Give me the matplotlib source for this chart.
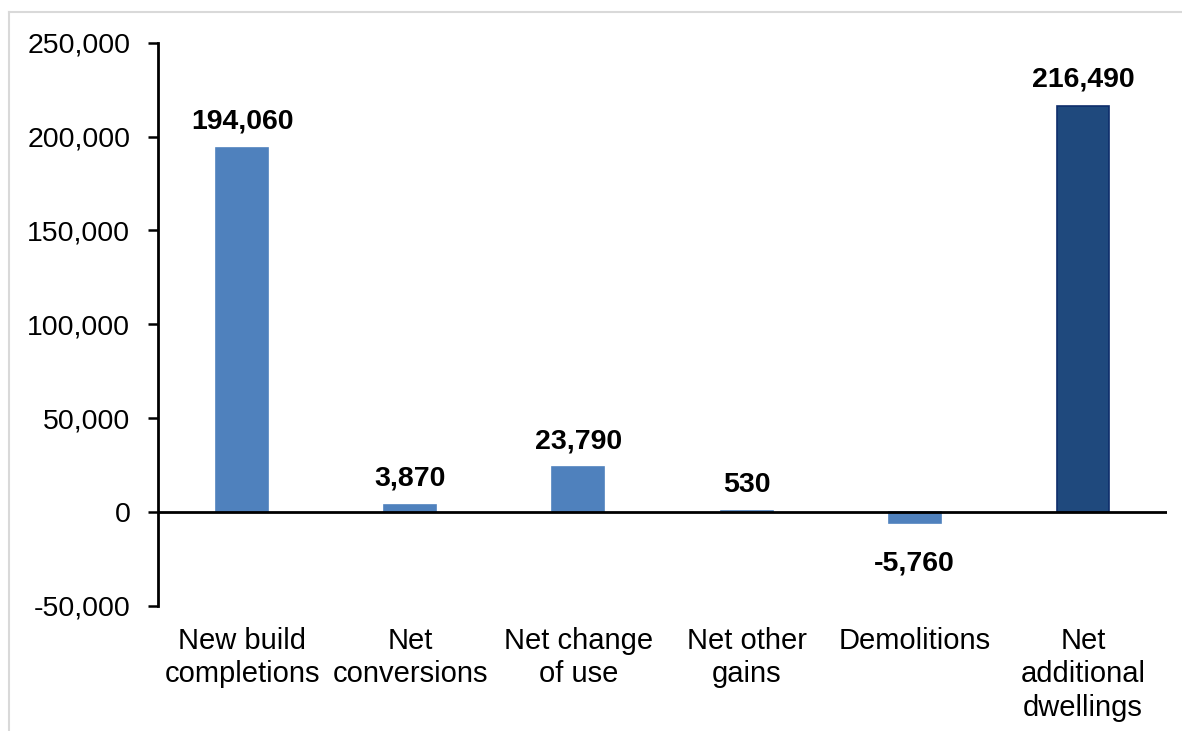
import matplotlib.pyplot as plt
from matplotlib.lines import Line2D
from matplotlib.ticker import FuncFormatter

plt.rcParams['font.family'] = ['Liberation Sans', 'DejaVu Sans']

# data
categories = ['New build\ncompletions', 'Net\nconversions', 'Net change\nof use',
              'Net other\ngains', 'Demolitions', 'Net\nadditional\ndwellings']
values = [194060, 3870, 23790, 530, -5760, 216490]
value_labels = ['194,060', '3,870', '23,790', '530', '-5,760', '216,490']
y_ticks = [-50000, 0, 50000, 100000, 150000, 200000, 250000]

light_blue = '#4F81BD'
dark_blue = '#1F497D'

fig = plt.figure(figsize=(11.82, 7.31), dpi=100)
ax = fig.add_axes([0.1337, 0.1714, 0.8536, 0.7702])

colors = [light_blue] * 5 + [dark_blue]
edges = [light_blue] * 5 + ['#0E2D6B']
x = list(range(len(categories)))
ax.bar(x, values, width=0.31, color=colors, edgecolor=edges, linewidth=1.2, zorder=2)

# value labels, above positive bars and below negative ones
for xi, v, lab in zip(x, values, value_labels):
    if v >= 0:
        ax.annotate(lab, (xi, v), xytext=(0, 13), textcoords='offset pixels',
                    ha='center', va='bottom', fontsize=20.5, fontweight='bold')
    else:
        ax.annotate(lab, (xi, v), xytext=(0, -28), textcoords='offset pixels',
                    ha='center', va='top', fontsize=20.5, fontweight='bold')

ax.axhline(0, color='black', linewidth=2, zorder=3)

ax.set_xlim(-0.5, len(categories) - 0.5)
ax.set_ylim(-50000, 250000)
ax.set_yticks(y_ticks)
ax.yaxis.set_major_formatter(FuncFormatter(lambda v, p: f'{int(v):,}'))
ax.tick_params(axis='y', direction='out', length=7, width=1.8, pad=13, labelsize=20.5)

ax.set_xticks(x)
ax.set_xticklabels(categories, fontsize=21, linespacing=1.25)
ax.tick_params(axis='x', length=0, pad=15)

for s in ['top', 'right', 'bottom']:
    ax.spines[s].set_visible(False)
ax.spines['left'].set_linewidth(2)

# light grey frame of the chart area
fig.add_artist(Line2D([9 / 1182, 9 / 1182], [0, 1 - 12 / 731], transform=fig.transFigure,
                      color='#D9D9D9', linewidth=1.5))
fig.add_artist(Line2D([9 / 1182, 1], [1 - 12 / 731, 1 - 12 / 731], transform=fig.transFigure,
                      color='#D9D9D9', linewidth=1.5))

fig.savefig('out.png', dpi=100)
